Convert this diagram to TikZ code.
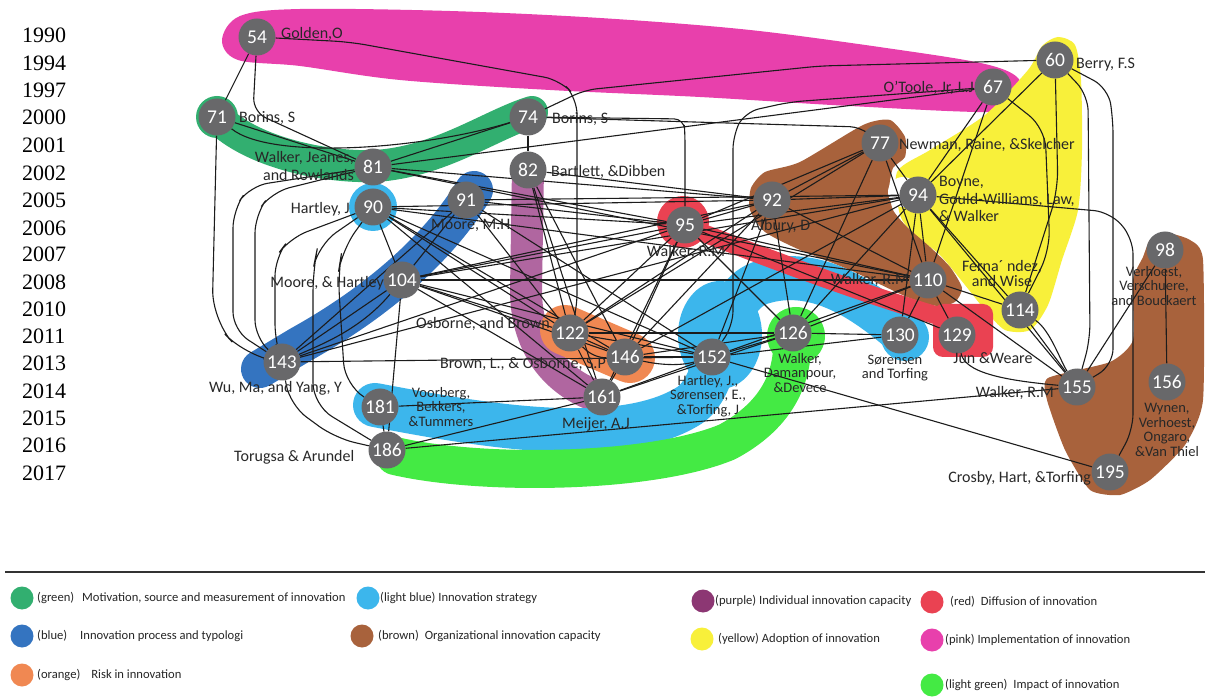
\documentclass[tikz,border=0pt]{standalone}
\usepackage{fontspec}
\setmainfont{Carlito}
\newfontfamily\yrfont{Liberation Serif}
\pgfdeclarelayer{fills}
\pgfdeclarelayer{edges}
\pgfsetlayers{fills,edges,main}
\definecolor{pinkc}{RGB}{232,64,172}
\definecolor{greenc}{RGB}{50,175,112}
\definecolor{bluec}{RGB}{52,116,192}
\definecolor{lbluec}{RGB}{60,182,236}
\definecolor{purplec}{RGB}{176,102,160}
\definecolor{orangec}{RGB}{240,136,82}
\definecolor{redc}{RGB}{234,66,82}
\definecolor{brownc}{RGB}{168,98,60}
\definecolor{yellowc}{RGB}{248,240,58}
\definecolor{lgreenc}{RGB}{68,234,68}
\definecolor{nodegray}{RGB}{104,104,106}
\definecolor{labgray}{RGB}{40,40,40}
\definecolor{edgec}{RGB}{28,28,28}
\definecolor{lgpurple}{RGB}{140,55,115}
\begin{document}
\begin{tikzpicture}[x=1pt,y=-1pt,
  pnode/.style={circle,fill=nodegray,text=white,minimum size=37pt,inner sep=0pt,font=\fontsize{19.5}{19.5}\selectfont},
  lab/.style={text=labgray,inner sep=0pt,font=\fontsize{16}{#1}\selectfont},
  lab/.default=18,
  labm/.style={text=labgray,inner sep=0pt,align=center,font=\fontsize{14.5}{#1}\selectfont},
  labm/.default=14.5,
  yr/.style={anchor=west,inner sep=0pt,font=\yrfont\fontsize{22}{22}\selectfont},
  cx/.style={draw=edgec,line width=1.1pt},
  band/.style={line width=#1,line cap=round,line join=round},
  lg/.style={circle,minimum size=23pt,inner sep=0pt},
  lgt/.style={anchor=west,inner sep=0pt,text=black!85,font=\fontsize{12.6}{12.6}\selectfont},
]
\useasboundingbox (0,0) rectangle (1205,700);

% ---------- years ----------
\node[yr] (y1990) at (22,35) {1990};
\node[yr] (y1994) at (22,63) {1994};
\node[yr] (y1997) at (22,90) {1997};
\node[yr] (y2000) at (22,117) {2000};
\node[yr] (y2001) at (22,145) {2001};
\node[yr] (y2002) at (22,173) {2002};
\node[yr] (y2005) at (22,200) {2005};
\node[yr] (y2006) at (22,228) {2006};
\node[yr] (y2007) at (22,254) {2007};
\node[yr] (y2008) at (22,282) {2008};
\node[yr] (y2010) at (22,309) {2010};
\node[yr] (y2011) at (22,336) {2011};
\node[yr] (y2013) at (22,363) {2013};
\node[yr] (y2014) at (22,391) {2014};
\node[yr] (y2015) at (22,418) {2015};
\node[yr] (y2016) at (22,445) {2016};
\node[yr] (y2017) at (22,473) {2017};

% ---------- paper nodes ----------
\node[pnode] (n54) at (257,37) {54};
\node[pnode] (n60) at (1055,60) {60};
\node[pnode] (n67) at (993,87) {67};
\node[pnode] (n71) at (217,117) {71};
\node[pnode] (n74) at (528,117) {74};
\node[pnode] (n77) at (880,143) {77};
\node[pnode] (n81) at (373,167) {81};
\node[pnode] (n82) at (528,170) {82};
\node[pnode] (n90) at (373,207) {90};
\node[pnode] (n91) at (466,200) {91};
\node[pnode] (n92) at (772,200) {92};
\node[pnode] (n94) at (918,195) {94};
\node[pnode] (n95) at (685,225) {95};
\node[pnode] (n98) at (1165,250) {98};
\node[pnode] (n104) at (402,280) {104};
\node[pnode] (n110) at (928,280) {110};
\node[pnode] (n114) at (1020,310) {114};
\node[pnode] (n122) at (570,333) {122};
\node[pnode] (n126) at (793,333) {126};
\node[pnode] (n129) at (957,335) {129};
\node[pnode] (n130) at (900,335) {130};
\node[pnode] (n143) at (282,362) {143};
\node[pnode] (n146) at (625,357) {146};
\node[pnode] (n152) at (712,357) {152};
\node[pnode] (n155) at (1077,387) {155};
\node[pnode] (n156) at (1167,382) {156};
\node[pnode] (n161) at (602,397) {161};
\node[pnode] (n181) at (380,407) {181};
\node[pnode] (n186) at (387,450) {186};
\node[pnode] (n195) at (1110,472) {195};

% ---------- labels ----------
\node[lab,anchor=west] (l54) at (281,34) {Golden,O};
\node[lab,anchor=west] (l71) at (239,118) {Borins, S};
\node[lab,anchor=west] (l74) at (552,119) {Borins, S};
\node[lab=18,anchor=east,align=right] (l81) at (354,166) {Walker, Jeanes,\\and Rowlands};
\node[lab,anchor=west] (l82) at (551,172) {Bartlett, \&Dibben};
\node[lab,anchor=east] (l90) at (350,209) {Hartley, J};
\node[lab,anchor=west] (l91) at (431,225) {Moore, M.H};
\node[lab,anchor=west] (l92) at (751,226) {Albury, D};
\node[lab] (l95) at (686,252) {Walker, R.M};
\node[lab,anchor=east] (l67) at (974,88) {O’Toole, Jr, L.J};
\node[lab,anchor=west] (l60) at (1076,65) {Berry, F.S};
\node[lab,anchor=west] (l77) at (899,145) {Newman, Raine, \&Skelcher};
\node[lab=17.5,anchor=west,align=left] (l94) at (939,199) {Boyne,\\Gould-Williams, Law,\\\& Walker};
\node[lab,anchor=east] (l110) at (909,280) {Walker, R.M};
\node[lab=15,align=center] (l114) at (1002,274) {Ferna´ ndez,\\and Wise};
\node[lab,anchor=east] (l104) at (384,283) {Moore, \& Hartley};
\node[lab,anchor=west] (l143) at (209,388) {Wu, Ma, and Yang, Y};
\node[lab,anchor=west] (l186) at (234,457) {Torugsa \& Arundel};
\node[lab,anchor=east] (l122) at (550,324) {Osborne, and Brown};
\node[lab,anchor=east] (l146) at (606,364) {Brown, L., \& Osborne, S.P};
\node[labm] (l181) at (441,407) {Voorberg,\\Bekkers,\\\&Tummers};
\node[lab] (l161) at (596,424) {Meijer, A.J};
\node[labm] (l152) at (708,396) {Hartley, J.,\\Sørensen, E.,\\\&Torfing, J};
\node[labm] (l126) at (800,373) {Walker,\\Damanpour,\\\&Devece};
\node[labm] (l130) at (895,368) {Sørensen\\and Torfing};
\node[lab] (l129) at (993,358) {Jun \&Weare};
\node[lab,anchor=east] (l155) at (1054,393) {Walker, R.M};
\node[labm] (l98) at (1154,286) {Verhoest,\\Verschuere,\\and Bouckaert};
\node[labm] (l156) at (1167,430) {Wynen,\\Verhoest,\\Ongaro,\\\&Van Thiel};
\node[lab,anchor=east] (l195) at (1091,478) {Crosby, Hart, \&Torfing};

% ---------- coloured clusters ----------
\begin{pgfonlayer}{fills}
\fill[white] (0,0) rectangle (1205,700);
\fill[pinkc] plot[smooth cycle,tension=0.55] coordinates {(222,40) (240,16) (300,9) (450,11) (600,18) (750,30) (900,50) (985,64) (1018,78) (1020,100) (995,112) (850,106) (700,97) (550,90) (400,80) (300,66) (238,60)};
\draw[greenc,band=32] (214,114) .. controls (245,150) and (320,168) .. (375,166) .. controls (440,162) and (490,125) .. (532,112);
\fill[greenc] (217,117) circle (21);
\draw[purplec,band=32] (528,168) -- (526,290) .. controls (526,350) and (560,385) .. (602,398);
\draw[bluec,band=38] (474,190) .. controls (445,238) and (390,295) .. (300,345) -- (260,369);
\fill[lbluec] (373,207) circle (24);
\draw[lbluec,band=44] (375,405) .. controls (480,425) and (620,450) .. (690,405) .. controls (725,380) and (715,300) .. (760,283) .. controls (815,265) and (865,300) .. (905,335);
\fill[lbluec] (720,335) ellipse (42 and 54);
\fill[lbluec] (905,337) circle (24);
\draw[lgreenc,band=38] (395,456) .. controls (480,476) and (650,474) .. (727,442) .. controls (787,410) and (794,365) .. (792,333);
\fill[lgreenc] (796,336) circle (29);
\draw[orangec,band=50] (565,330) -- (630,358);
\fill[yellowc] plot[smooth cycle,tension=0.45] coordinates {(897,172) (930,150) (985,115) (1028,70) (1042,46) (1058,37) (1075,45) (1081,80) (1082,150) (1078,210) (1062,260) (1048,305) (1030,330) (1005,330) (985,310) (965,285) (940,255) (915,235) (900,215)};
\fill[brownc] plot[smooth cycle,tension=0.4] coordinates {(751,188) (765,172) (800,162) (863,125) (890,120) (905,137) (905,157) (893,168) (889,190) (893,210) (907,227) (930,247) (950,267) (962,288) (955,302) (937,306) (907,297) (850,270) (800,250) (765,232) (750,210)};
\fill[white] (903,192) circle (15);
\draw[redc,band=18] (690,228) .. controls (760,255) and (850,290) .. (945,318);
\fill[redc] (683,222) circle (26);
\fill[redc,rounded corners=10pt] (933,304) rectangle (993,357);
\fill[brownc] plot[smooth cycle,tension=0.35] coordinates {(1143,257) (1150,240) (1167,233) (1190,240) (1203,260) (1203,400) (1185,445) (1150,480) (1120,495) (1090,490) (1065,450) (1047,400) (1048,378) (1110,362) (1133,340) (1133,280)};
\end{pgfonlayer}

% ---------- citation links ----------
\begin{pgfonlayer}{edges}
\draw[cx] (n54) -- (n71);
\draw[cx,rounded corners=14pt] (n54) -- (253,112) -- (n81);
\draw[cx,rounded corners=16pt] (n54) -- (350,42) -- (560,80) -- (577,98) -- (577,310) -- (n122);
\draw[cx,rounded corners=12pt] (n60) -- (820,66) -- (585,90) -- (n74);
\draw[cx,rounded corners=14pt] (n67) -- (790,102) -- (745,112) -- (733,135) -- (733,325) -- (n152);
\draw[cx,rounded corners=10pt] (n74) -- (684,119) -- (685,135) -- (n95);
\draw[cx,rounded corners=10pt] (n74) -- (860,127) -- (n77);
\draw[cx] (n74) -- (n81);
\draw[cx] (n71) .. controls (270,160) and (420,150) .. (n74);
\draw[cx] (n71) -- (n81);
\draw[cx] (n74) -- (n82);
\draw[cx,rounded corners=30pt] (n71) -- (212,320) -- (245,356) -- (n143);
\draw[cx,rounded corners=18pt] (n81) -- (250,186) -- (233,210) -- (233,330) -- (n143);
\draw[cx,rounded corners=18pt] (n81) -- (272,192) -- (255,215) -- (255,338) -- (n143);
\draw[cx,rounded corners=18pt] (n90) -- (290,238) -- (275,258) -- (275,342) -- (n143);
\draw[cx,rounded corners=22pt] (n90) -- (318,245) -- (313,270) -- (313,405) -- (n186);
\draw[cx,rounded corners=22pt] (n90) -- (342,250) -- (338,275) -- (345,385) -- (n181);
\draw[cx] (n90) -- (n104);
\draw[cx] (n90) -- (n122);
\draw[cx] (n90) -- (n146);
\draw[cx] (n90) -- (n161);
\draw[cx] (n90) -- (n95);
\draw[cx] (n90) -- (n92);
\draw[cx] (n90) -- (n110);
\draw[cx] (n90) -- (n152);
\draw[cx] (n81) -- (n92);
\draw[cx] (n82) -- (n92);
\draw[cx] (n81) -- (n95);
\draw[cx] (n81) -- (n110);
\draw[cx] (n82) -- (n122);
\draw[cx] (n82) -- (n146);
\draw[cx] (n82) -- (n161);
\draw[cx] (n91) -- (n104);
\draw[cx] (n91) -- (n143);
\draw[cx] (n91) -- (n95);
\draw[cx] (n91) -- (n152);
\draw[cx] (n91) -- (n122);
\draw[cx] (n91) -- (n94);
\draw[cx] (n92) -- (n95);
\draw[cx] (n92) -- (n104);
\draw[cx] (n92) -- (n122);
\draw[cx] (n92) -- (n146);
\draw[cx] (n92) -- (n126);
\draw[cx] (n92) -- (n110);
\draw[cx] (n92) -- (n94);
\draw[cx] (n92) -- (n152);
\draw[cx] (n77) -- (n92);
\draw[cx] (n77) -- (n94);
\draw[cx] (n77) -- (n110);
\draw[cx] (n77) -- (n126);
\draw[cx] (n77) -- (n95);
\draw[cx] (n77) -- (n122);
\draw[cx] (n94) -- (n95);
\draw[cx] (n94) -- (n104);
\draw[cx] (n94) -- (n143);
\draw[cx] (n94) -- (n110);
\draw[cx] (n94) -- (n114);
\draw[cx] (n94) -- (n126);
\draw[cx] (n94) -- (n130);
\draw[cx] (n94) -- (n155);
\draw[cx] (n94) -- (n146);
\draw[cx] (n60) -- (n94);
\draw[cx,rounded corners=20pt] (n60) -- (1058,190) -- (n114);
\draw[cx,rounded corners=16pt] (n60) -- (1088,95) -- (1090,340) -- (n155);
\draw[cx,rounded corners=16pt] (n60) -- (1108,88) -- (1113,118) -- (1113,365) -- (n155);
\draw[cx,rounded corners=16pt] (n94) -- (1110,212) -- (1133,238) -- (1133,430) -- (n195);
\draw[cx] (n67) -- (n94);
\draw[cx] (n67) -- (n110);
\draw[cx,rounded corners=20pt] (n67) -- (1045,128) -- (1050,250) -- (n114);
\draw[cx] (n67) -- (n81);
\draw[cx] (n95) -- (n104);
\draw[cx] (n95) -- (n122);
\draw[cx] (n95) -- (n146);
\draw[cx] (n95) -- (n161);
\draw[cx] (n95) -- (n110);
\draw[cx] (n95) -- (n129);
\draw[cx] (n95) -- (n143);
\draw[cx] (n95) -- (n126);
\draw[cx] (n104) -- (n143);
\draw[cx] (n104) .. controls (360,330) and (320,345) .. (n143);
\draw[cx] (n104) -- (n122);
\draw[cx] (n104) -- (n146);
\draw[cx] (n104) -- (n161);
\draw[cx] (n104) -- (n110);
\draw[cx] (n104) -- (n186);
\draw[cx] (n104) -- (n152);
\draw[cx] (n110) -- (n114);
\draw[cx] (n110) -- (n126);
\draw[cx] (n110) -- (n129);
\draw[cx] (n110) -- (n130);
\draw[cx] (n110) -- (n155);
\draw[cx] (n110) -- (n152);
\draw[cx] (n114) -- (n155);
\draw[cx] (n114) .. controls (1050,330) and (1060,360) .. (n155);
\draw[cx] (n98) -- (n156);
\draw[cx] (n98) -- (n155);
\draw[cx] (n122) -- (n146);
\draw[cx] (n122) .. controls (590,355) and (600,358) .. (n146);
\draw[cx] (n122) -- (n152);
\draw[cx] (n122) -- (n161);
\draw[cx] (n122) -- (n126);
\draw[cx] (n143) -- (n152);
\draw[cx,rounded corners=20pt] (n143) -- (290,405) -- (335,438) -- (n186);
\draw[cx] (n146) -- (n152);
\draw[cx] (n146) .. controls (660,365) and (680,366) .. (n152);
\draw[cx] (n146) -- (n161);
\draw[cx] (n146) -- (n126);
\draw[cx] (n152) -- (n161);
\draw[cx] (n152) -- (n126);
\draw[cx] (n152) -- (n130);
\draw[cx] (n152) -- (n195);
\draw[cx] (n161) -- (n181);
\draw[cx] (n161) -- (n186);
\draw[cx] (n161) -- (n126);
\draw[cx] (n181) -- (n186);
\draw[cx] (n186) -- (n155);
\draw[cx] (n126) -- (n130);
\draw[cx] (n129) .. controls (965,372) and (1000,380) .. (n155);
\end{pgfonlayer}

% ---------- legend ----------
\draw[line width=2.5pt,black!80] (5,572) -- (1205,572);
\node[lg,fill=greenc] (k1) at (22,598) {};
\node[lgt] (t1) at (37,598) {(green)\hspace{8pt}Motivation, source and measurement of innovation};
\node[lg,fill=bluec] (k2) at (22,636) {};
\node[lgt] (t2) at (37,636) {(blue)\hspace{13pt}Innovation process and typologi};
\node[lg,fill=orangec] (k3) at (22,675) {};
\node[lgt] (t3) at (37,675) {(orange)\hspace{11pt}Risk in innovation};
\node[lg,fill=lbluec] (k4) at (368,598) {};
\node[lgt] (t4) at (380,598) {(light blue) Innovation strategy};
\node[lg,fill=brownc] (k5) at (362,636) {};
\node[lgt] (t5) at (378,636) {(brown)\hspace{6pt}Organizational innovation capacity};
\node[lg,fill=lgpurple] (k6) at (703,601) {};
\node[lgt] (t6) at (715,601) {(purple) Individual innovation capacity};
\node[lg,fill=yellowc] (k7) at (702,639) {};
\node[lgt] (t7) at (718,639) {(yellow) Adoption of innovation};
\node[lg,fill=redc] (k8) at (932,602) {};
\node[lgt] (t8) at (950,602) {(red)\hspace{6pt}Diffusion of innovation};
\node[lg,fill=pinkc] (k9) at (932,640) {};
\node[lgt] (t9) at (945,640) {(pink) Implementation of innovation};
\node[lg,fill=lgreenc] (k10) at (932,685) {};
\node[lgt] (t10) at (945,685) {(light green)\hspace{6pt}Impact of innovation};
\end{tikzpicture}
\end{document}
